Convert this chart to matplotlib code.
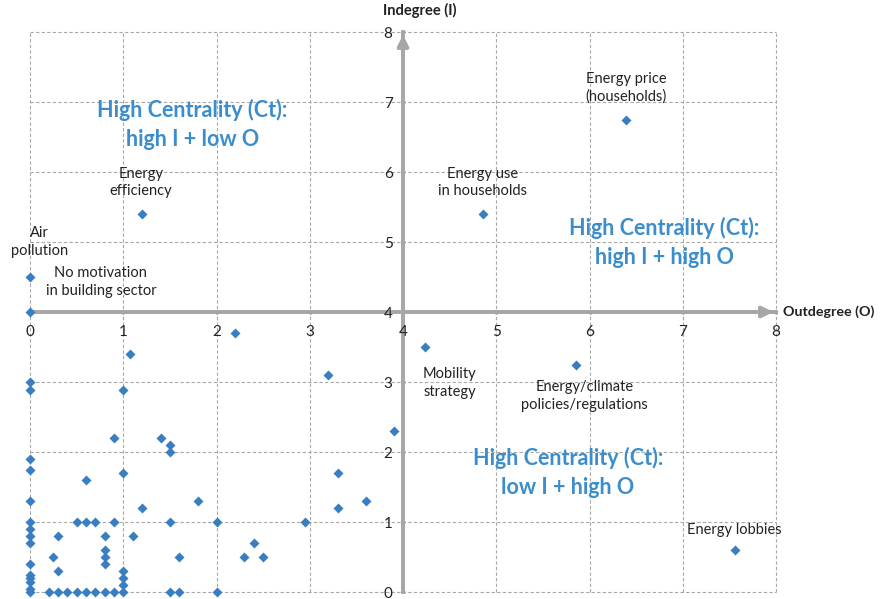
import numpy as np
import matplotlib
matplotlib.use("Agg")
import matplotlib.pyplot as plt

plt.rcParams['font.family'] = ['Lato', 'DejaVu Sans']

# labelled factors
lab_names = ["Energy price\n(households)", "Energy use\nin households", "Energy\nefficiency",
             "Air\npollution", "No motivation\nin building sector", "Mobility\nstrategy",
             "Energy/climate\npolicies/regulations", "Energy lobbies"]
lab_out = [6.39, 4.86, 1.20, 0.0, 0.0, 4.24, 5.86, 7.56]
lab_in = [6.75, 5.40, 5.40, 4.5, 4.0, 3.50, 3.25, 0.60]
# where the text of each label sits
txt_x = [6.39, 4.85, 1.19, 0.10, 0.76, 4.50, 5.95, 7.55]
txt_y = [7.20, 5.85, 5.85, 5.00, 4.43, 2.99, 2.80, 0.89]

# other (unlabelled) factors
other_out = [2.2, 1.07, 0, 0, 1.0, 3.2, 3.9, 0.9, 1.4, 1.5, 1.5, 0, 0, 1.0, 0.6, 3.3,
             0, 1.8, 1.2, 3.3, 3.6, 0, 0.5, 0.6, 0.7, 0.9, 1.5, 2.0, 2.95,
             0, 0, 0, 0.3, 0.8, 1.1, 2.4, 0.8, 0.8, 0.8, 0.25, 1.6, 2.3, 2.5,
             0, 0.3, 1.0, 1.0, 1.0, 0, 0, 0, 0, 0,
             0.2, 0.3, 0.4, 0.5, 0.6, 0.7, 0.8, 0.9, 1.0, 1.5, 1.6, 2.0]
other_in = [3.7, 3.4, 3.0, 2.89, 2.89, 3.1, 2.3, 2.2, 2.2, 2.1, 2.0, 1.9, 1.75, 1.7, 1.6, 1.7,
            1.3, 1.3, 1.2, 1.2, 1.3, 1.0, 1.0, 1.0, 1.0, 1.0, 1.0, 1.0, 1.0,
            0.9, 0.8, 0.7, 0.8, 0.8, 0.8, 0.7, 0.6, 0.5, 0.4, 0.5, 0.5, 0.5, 0.5,
            0.4, 0.3, 0.3, 0.2, 0.1, 0.25, 0.2, 0.15, 0.05, 0.0,
            0, 0, 0, 0, 0, 0, 0, 0, 0, 0, 0, 0]

quad_text = ["High Centrality (Ct):\nhigh I + low O",
             "High Centrality (Ct):\nhigh I + high O",
             "High Centrality (Ct):\nlow I + high O"]
quad_x = [1.74, 6.8, 5.77]
quad_y = [6.68, 4.99, 1.71]

ticks = list(range(9))

blue = '#3A7EC2'
axcol = '#A6A6A6'

fig = plt.figure(figsize=(8.8, 5.99), dpi=100)
ax = fig.add_axes([30/880, 7/599, 746/880, 560/599])
ax.set_xlim(0, 8)
ax.set_ylim(0, 8)

# dashed grid, including the outer frame
for t in ticks:
    ax.axvline(t, color='#A8A8A8', lw=0.8, ls=(0, (3, 2)), zorder=0, clip_on=False)
    ax.axhline(t, color='#A8A8A8', lw=0.8, ls=(0, (3, 2)), zorder=0, clip_on=False)

# axes crossing at (4, 4)
for s in ['top', 'right']:
    ax.spines[s].set_visible(False)
ax.spines['left'].set_position(('data', 4))
ax.spines['bottom'].set_position(('data', 4))
for s in ['left', 'bottom']:
    ax.spines[s].set_color(axcol)
    ax.spines[s].set_linewidth(2.8)
    ax.spines[s].set_zorder(1)
ax.set_xticks(ticks)
ax.set_yticks(ticks)
ax.tick_params(axis='both', colors=axcol, length=3, width=2, direction='inout',
               labelcolor='#222222', labelsize=11)
ax.tick_params(axis='x', pad=8)
ax.tick_params(axis='y', pad=6)

# arrow heads
ax.annotate('', xy=(8, 4), xytext=(7.75, 4),
            arrowprops=dict(arrowstyle='-|>', color=axcol, lw=2.8, mutation_scale=16))
ax.annotate('', xy=(4, 8), xytext=(4, 7.7),
            arrowprops=dict(arrowstyle='-|>', color=axcol, lw=2.8, mutation_scale=16))

ax.scatter(other_out, other_in, marker='D', s=26, color=blue, zorder=3, clip_on=False, linewidths=0)
ax.scatter(lab_out, lab_in, marker='D', s=26, color=blue, zorder=3, clip_on=False, linewidths=0)

for name, x, y in zip(lab_names, txt_x, txt_y):
    ax.text(x, y, name, ha='center', va='center', fontsize=10.5, color='#222222',
            linespacing=1.35, zorder=4)

for q, x, y in zip(quad_text, quad_x, quad_y):
    ax.text(x, y, q, ha='center', va='center', fontsize=15.5, fontweight='bold',
            color='#3C8DCB', linespacing=1.5, zorder=4)

ax.text(4.18, 8.2, "Indegree (I)", ha='center', va='bottom', fontsize=10.5,
        fontweight='bold', color='#222222')
ax.text(8.08, 4.0, "Outdegree (O)", ha='left', va='center', fontsize=10.3,
        fontweight='bold', color='#222222')

fig.savefig("out.png", dpi=100)
